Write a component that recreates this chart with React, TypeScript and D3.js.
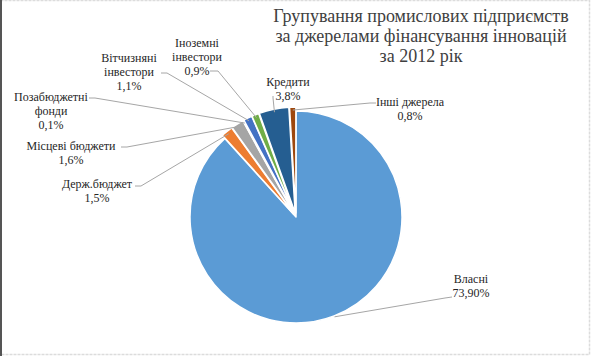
import React from "react";
import * as d3 from "d3";

const categoryLines: string[][] = [
  ["Власні"],
  ["Держ.бюджет"],
  ["Місцеві бюджети"],
  ["Позабюджетні", "фонди"],
  ["Вітчизняні", "інвестори"],
  ["Іноземні", "інвестори"],
  ["Кредити"],
  ["Інші джерела"],
];
const values = [73.9, 1.5, 1.6, 0.1, 1.1, 0.9, 3.8, 0.8];
const valueLabels = ["73,90%", "1,5%", "1,6%", "0,1%", "1,1%", "0,9%", "3,8%", "0,8%"];
const colors = ["#5B9BD5", "#ED7D31", "#A5A5A5", "#FFC000", "#4472C4", "#70AD47", "#255E91", "#9E480E"];
const titleLines = [
  "Групування промислових підприємств",
  "за джерелами фінансування інновацій",
  "за 2012 рік",
];

// label layout: centre x, first baseline y, leader start [x,y], elbow [x,y]
const labelLayout = [
  { x: 471, y: 283, start: [452, 297], elbow: [445, 298] },
  { x: 97, y: 188, start: [135, 186], elbow: [141, 186] },
  { x: 71, y: 150, start: [121, 147], elbow: [127, 147] },
  { x: 51, y: 101, start: [89, 98], elbow: [95, 98] },
  { x: 129, y: 62, start: [161, 73], elbow: [167, 73] },
  { x: 197, y: 46.5, start: [210, 71], elbow: [218, 71] },
  { x: 288, y: 86, start: [273, 96], elbow: [273, 98] },
  { x: 410, y: 105.5, start: [376, 103], elbow: [370, 103] },
];

const W = 591;
const H = 356;
const cx = 296;
const cy = 217;
const R = 106;
const FONT = "'Liberation Serif', 'Times New Roman', serif";

export default function App() {
  const pie = d3
    .pie<number>()
    .sort(null)
    .value((d) => d)
    .startAngle(0)
    .endAngle(2 * Math.PI);
  const arcs = pie(values);
  const arc = d3.arc<d3.PieArcDatum<number>>().innerRadius(0).outerRadius(R);
  const edge = d3.arc<d3.PieArcDatum<number>>().innerRadius(R + 1).outerRadius(R + 1);

  return (
    <svg
      width={W}
      height={H}
      style={{ position: "absolute", left: 0, top: 0, display: "block", background: "#fff" }}
    >
      <rect x={0.5} y={0.5} width={589} height={354} fill="#fff" stroke="#dcdcdc" strokeWidth={1.5} strokeDasharray="3 1" />
      <line x1={1} y1={0} x2={1} y2={356} stroke="#555" strokeWidth={2} />

      <g fontFamily={FONT} fill="#404040" textAnchor="middle" fontSize={18}>
        {titleLines.map((t, i) => (
          <text key={i} x={421} y={22 + i * 20}>
            {t}
          </text>
        ))}
      </g>

      <g transform={`translate(${cx},${cy})`}>
        {arcs.map((a, i) => {
          const mid = (a.startAngle + a.endAngle) / 2;
          const ex = i === 0 ? 0 : 4;
          const dx = Math.sin(mid) * ex;
          const dy = -Math.cos(mid) * ex;
          return (
            <path
              key={i}
              d={arc(a) || ""}
              transform={`translate(${dx},${dy})`}
              fill={colors[i]}
              stroke="#fff"
              strokeWidth={1.5}
              strokeLinejoin="round"
            />
          );
        })}
      </g>

      <g fill="none" stroke="#A6A6A6" strokeWidth={1}>
        {arcs.map((a, i) => {
          const [ex, ey] = edge.centroid(a);
          const L = labelLayout[i];
          const p = `M${L.start[0]},${L.start[1]}L${L.elbow[0]},${L.elbow[1]}L${cx + ex},${cy + ey}`;
          return <path key={i} d={p} />;
        })}
      </g>

      <g fontFamily={FONT} fill="#262626" textAnchor="middle" fontSize={12}>
        {labelLayout.map((L, i) => {
          const lines = [...categoryLines[i], valueLabels[i]];
          return (
            <text key={i} x={L.x} y={L.y}>
              {lines.map((t, j) => (
                <tspan key={j} x={L.x} y={L.y + j * 14}>
                  {t}
                </tspan>
              ))}
            </text>
          );
        })}
      </g>
    </svg>
  );
}
